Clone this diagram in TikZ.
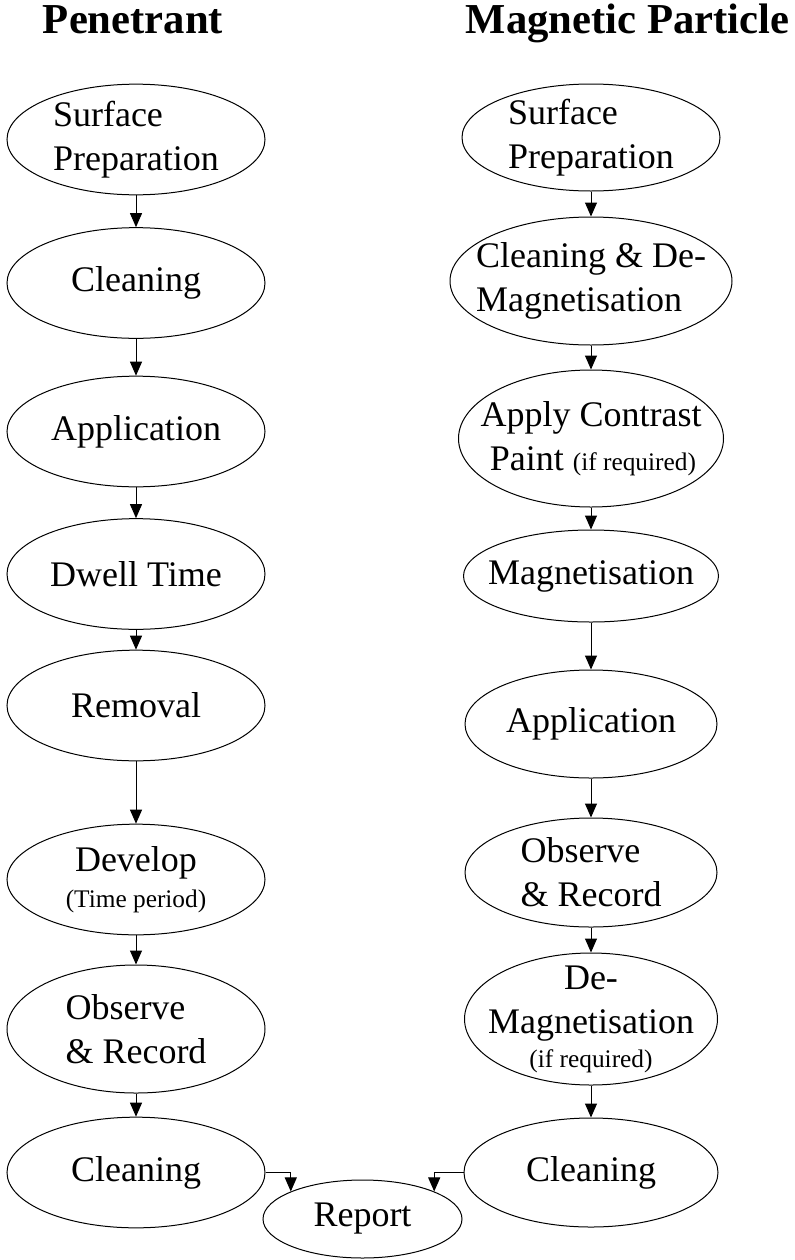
\documentclass[tikz,border=0pt]{standalone}
\usepackage{fontspec}
\setmainfont{Liberation Serif}
\usepackage{tikz}
\usetikzlibrary{shapes, arrows.meta, positioning, calc}
\newcommand{\smallnote}{\fontsize{19}{22}\selectfont}

\begin{document}
\begin{tikzpicture}[
    x=0.75pt, y=-0.75pt,
    arr/.style={-{Triangle[length=10.5pt, width=9pt]}, line width=0.75pt},
    stage/.style={draw, ellipse, line width=0.75pt, inner sep=-15pt,
                  minimum width=193.5pt, minimum height=83pt,
                  align=center, font=\fontsize{27}{33}\selectfont},
    ttl/.style={anchor=base, font=\bfseries\fontsize{32}{38}\selectfont}
  ]
    \useasboundingbox (0,0) rectangle (794,1260);

    % column titles
    \node[ttl] (pTitle) at (133, 33) {Penetrant};
    \node[ttl] (mTitle) at (627.5, 33) {Magnetic Particle};

    % penetrant
    \node[stage, align=left] (pSurf) at (136, 139.5) {Surface\\Preparation};
    \node[stage] (pClean) at (136, 283) {Cleaning};
    \node[stage] (pApp) at (136, 431.5) {Application};
    \node[stage] (pDwell) at (136, 574) {Dwell Time};
    \node[stage] (pRem) at (136, 705.5) {Removal};
    \node[stage] (pDev) at (136, 879.5) {Develop\\[-6pt]{\smallnote (Time period)}};
    \node[stage, align=left, minimum height=96pt] (pObs) at (136, 1029) {Observe\\\& Record};
    \node[stage] (pClean2) at (136, 1172.5) {Cleaning};

    % magnetic particle
    \node[stage, align=left, minimum height=80.25pt] (mSurf) at (591, 137.5) {Surface\\Preparation};
    \node[stage, align=left, minimum width=211.5pt, minimum height=96pt]
      (mClean) at (591, 281) {Cleaning \& De-\\Magnetisation};
    \node[stage, align=left, minimum width=198.75pt, minimum height=102.75pt]
      (mPaint) at (591, 438.5) {Apply Contrast\\\hspace*{7pt}Paint {\smallnote (if required)}};
    \node[stage, minimum width=191.25pt, minimum height=69pt]
      (mMag) at (591, 576) {Magnetisation};
    \node[stage, minimum width=189pt, minimum height=81pt]
      (mApp) at (591, 724) {Application};
    \node[stage, align=left, minimum width=189pt, minimum height=81.75pt]
      (mObs) at (591, 872.5) {Observe\\\& Record};
    \node[stage, minimum width=189.75pt, minimum height=99pt]
      (mDeMag) at (591, 1019) {De-\\Magnetisation\\[-7.5pt]{\smallnote (if required)}};
    \node[stage, minimum width=190.5pt, minimum height=81.75pt]
      (mClean2) at (591, 1172.5) {Cleaning};

    \node[stage, minimum width=149.25pt, minimum height=58.5pt]
      (rep) at (362.5, 1219) {Report};

    \draw[arr] (pSurf) -- (pClean);
    \draw[arr] (pClean) -- (pApp);
    \draw[arr] (pApp) -- (pDwell);
    \draw[arr] (pDwell) -- (pRem);
    \draw[arr] (pRem) -- (pDev);
    \draw[arr] (pDev) -- (pObs);
    \draw[arr] (pObs) -- (pClean2);

    \draw[arr] (mSurf) -- (mClean);
    \draw[arr] (mClean) -- (mPaint);
    \draw[arr] (mPaint) -- (mMag);
    \draw[arr] (mMag) -- (mApp);
    \draw[arr] (mApp) -- (mObs);
    \draw[arr] (mObs) -- (mDeMag);
    \draw[arr] (mDeMag) -- (mClean2);

    \draw[arr] (pClean2.east) -| (rep.159);
    \draw[arr] (mClean2.west) -| (rep.21);
  \end{tikzpicture}
\end{document}
